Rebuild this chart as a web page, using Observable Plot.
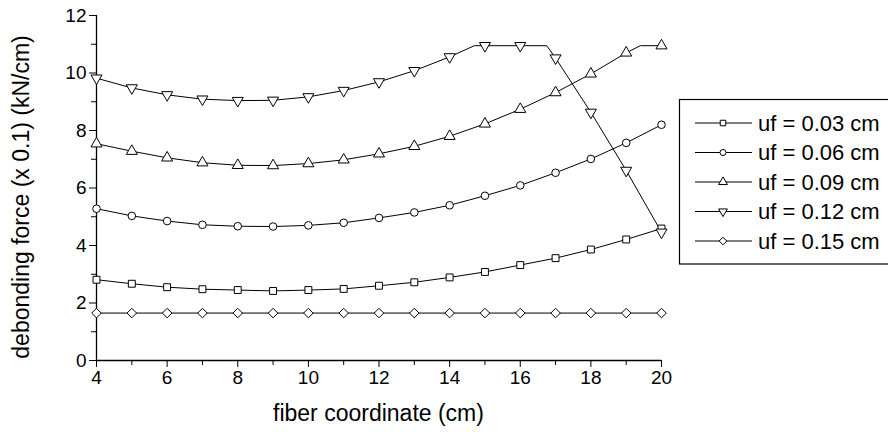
<!DOCTYPE html>
<html><head><meta charset="utf-8">
<script src="https://cdn.jsdelivr.net/npm/d3@7"></script>
<script src="https://cdn.jsdelivr.net/npm/@observablehq/plot@0.6"></script>
<style>
body{margin:0;background:#fff;}
#chart svg{font-family:"Liberation Sans",Arial,Helvetica,sans-serif;}
</style>
</head><body><div id="chart"></div>
<script>
// ---- data ----
const xs = [4,5,6,7,8,9,10,11,12,13,14,15,16,17,18,19,20];
const uf003 = [2.81,2.67,2.55,2.48,2.45,2.42,2.45,2.49,2.60,2.72,2.89,3.08,3.32,3.56,3.86,4.21,4.59];
const uf006 = [5.28,5.03,4.85,4.72,4.67,4.66,4.70,4.79,4.96,5.15,5.40,5.73,6.09,6.53,7.01,7.57,8.20];
const uf009 = [7.54,7.28,7.05,6.88,6.79,6.78,6.85,6.98,7.19,7.45,7.80,8.23,8.74,9.32,9.97,10.70,10.95];
const uf012 = [9.82,9.48,9.24,9.09,9.04,9.05,9.17,9.39,9.69,10.08,10.56,10.95,10.95,10.52,8.63,6.61,4.46];
const uf015 = [1.65,1.65,1.65,1.65,1.65,1.65,1.65,1.65,1.65,1.65,1.65,1.65,1.65,1.65,1.65,1.65,1.65];
// line bends between markers
const bendX009 = [19.4];
const bendY009 = [10.95];
const bendX012 = [14.7, 16.75];
const bendY012 = [10.95, 10.95];
const seriesNames = ["uf = 0.03 cm","uf = 0.06 cm","uf = 0.09 cm","uf = 0.12 cm","uf = 0.15 cm"];
const xTicksMajor = [4,6,8,10,12,14,16,18,20];
const xTicksMinor = [5,7,9,11,13,15,17,19];
const yTicksMajor = [0,2,4,6,8,10,12];
const yTicksMinor = [1,3,5,7,9,11];
const xTitle = "fiber coordinate (cm)";
const yTitle = "debonding force (x 0.1) (kN/cm)";

// ---- symbols ----
const downTriangle = {
  draw(ctx, size) {
    const y = -Math.sqrt(size / (Math.sqrt(3) * 3));
    ctx.moveTo(0, -2 * y);
    ctx.lineTo(Math.sqrt(3) * y, y);
    ctx.lineTo(-Math.sqrt(3) * y, y);
    ctx.closePath();
  }
};
const seriesVals = [uf003, uf006, uf009, uf012, uf015];
const symbols = [d3.symbolSquare, d3.symbolCircle, d3.symbolTriangle, downTriangle, d3.symbolDiamond2];
const radii = [3.9, 3.8, 4.1, 4.1, 4.3];
const bends = [[[],[]],[[],[]],[bendX009,bendY009],[bendX012,bendY012],[[],[]]];

const pointsOf = (k) => xs.map((x, i) => ({x, y: seriesVals[k][i]}));
const linePtsOf = (k) => pointsOf(k)
  .concat(bends[k][0].map((x, i) => ({x, y: bends[k][1][i]})))
  .sort((a, b) => a.x - b.x);

const W = 888, H = 432;
const plot = Plot.plot({
  width: W, height: H,
  marginLeft: 96, marginRight: 227, marginTop: 15, marginBottom: 72,
  x: {domain: [4, 20]},
  y: {domain: [0, 12]},
  style: {fontSize: "19px", fontFamily: "'Liberation Sans',Arial,Helvetica,sans-serif", background: "#fff", color: "#000"},
  marks: [
    Plot.axisY(yTicksMajor, {tickSize: 7, tickPadding: 3, label: null, fontSize: 19}),
    Plot.axisY(yTicksMinor, {tickSize: 5, tickFormat: () => "", label: null}),
    Plot.axisX(xTicksMajor, {tickSize: 7, tickPadding: 3, label: null, fontSize: 19}),
    Plot.axisX(xTicksMinor, {tickSize: 5, tickFormat: () => "", label: null}),
    Plot.ruleX([4], {y1: 0, y2: 12, stroke: "#000", strokeWidth: 1.3}),
    Plot.ruleY([0], {x1: 4, x2: 20, stroke: "#000", strokeWidth: 1.3}),
    ...seriesVals.map((_, k) => Plot.line(linePtsOf(k), {x: "x", y: "y", stroke: "#000", strokeWidth: 1})),
    ...seriesVals.map((_, k) => Plot.dot(pointsOf(k), {x: "x", y: "y", symbol: symbols[k], r: radii[k], fill: "#fff", stroke: "#000", strokeWidth: 1}))
  ]
});
document.getElementById("chart").appendChild(plot);

// ---- titles & legend ----
const svg = d3.select(plot);
svg.append("text").attr("x", 378.5).attr("y", 421).attr("text-anchor", "middle")
  .attr("font-size", 23).attr("fill", "#000").text(xTitle);
svg.append("text").attr("transform", "translate(29,197) rotate(-90)").attr("text-anchor", "middle")
  .attr("font-size", 23).attr("fill", "#000").text(yTitle);

const lg = svg.append("g");
lg.append("rect").attr("x", 679.5).attr("y", 99.5).attr("width", 260).attr("height", 164.5)
  .attr("fill", "#fff").attr("stroke", "#000").attr("stroke-width", 1.2);
seriesNames.forEach((name, k) => {
  const cy = 123 + k * 29.5;
  lg.append("line").attr("x1", 695).attr("x2", 752).attr("y1", cy).attr("y2", cy)
    .attr("stroke", "#000").attr("stroke-width", 1);
  lg.append("path").attr("transform", `translate(723,${cy})`)
    .attr("d", d3.symbol(symbols[k], Math.PI * (radii[k] * 0.8) ** 2)())
    .attr("fill", "#fff").attr("stroke", "#000").attr("stroke-width", 1);
  lg.append("text").attr("x", 758).attr("y", cy).attr("dy", "0.36em")
    .attr("text-anchor", "start")
    .attr("font-size", 22).attr("fill", "#000").text(name);
});
</script>
</body></html>
